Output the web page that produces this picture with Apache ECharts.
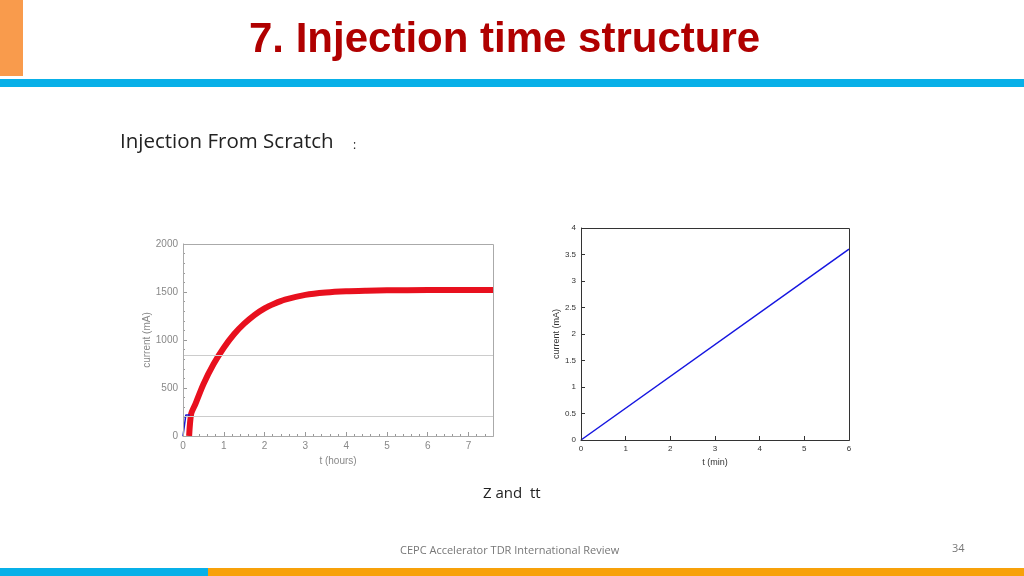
<!DOCTYPE html>
<html>
<head>
<meta charset="utf-8">
<script src="https://cdn.jsdelivr.net/npm/echarts@6/dist/echarts.min.js"></script>
<style>
html, body { margin: 0; padding: 0; background: #fff; }
#chart { width: 1024px; height: 576px; }
</style>
</head>
<body>
<div id="chart"></div>
<script>
// 左图: 电流随时间 (hours)
var redT = [0.15, 0.2, 0.3, 0.5, 0.75, 1, 1.25, 1.5, 1.75, 2, 2.25, 2.5, 3, 3.5, 4, 4.5, 5, 6, 7, 7.6];
var redI = [0, 230, 330, 540, 750, 920, 1060, 1170, 1260, 1330, 1380, 1420, 1470, 1495, 1508, 1514, 1518, 1520, 1521, 1522];
var blueT = [0, 0.07, 0.17];
var blueI = [0, 220, 220];
var refLines = [840, 210];
// 右图: 电流随时间 (min)
var rightT = [0, 6];
var rightI = [0, 3.6];

function pairs(xs, ys) {
	return xs.map(function(x, i) { return [x, ys[i]]; });
}

var axisGray = '#888';
var myChart = echarts.init(document.getElementById('chart'));
var option = {
	animation: false,
	textStyle: { fontFamily: 'Liberation Sans, Arial' },
	graphic: [
		{ type: 'rect', shape: { x: 0, y: 0, width: 23, height: 76 }, style: { fill: '#f99b4c' } },
		{ type: 'rect', shape: { x: 0, y: 79, width: 1024, height: 8 }, style: { fill: '#08b0e8' } },
		{ type: 'rect', shape: { x: 0, y: 568, width: 208, height: 8 }, style: { fill: '#08b0e8' } },
		{ type: 'rect', shape: { x: 208, y: 568, width: 816, height: 8 }, style: { fill: '#f7a10a' } },
		{ type: 'rect', shape: { x: 183.5, y: 244.5, width: 310, height: 192 }, style: { fill: 'none', stroke: '#aaa', lineWidth: 1 }, z: 10 },
		{ type: 'rect', shape: { x: 581.5, y: 228.5, width: 268, height: 212 }, style: { fill: 'none', stroke: '#333', lineWidth: 1 }, z: 10 },
		{ type: 'text', left: 249, top: 19, style: { text: '7. Injection time structure', font: 'bold 42px Liberation Sans, Arial', fill: '#b00000', shadowColor: 'rgba(0,0,0,0.35)', shadowOffsetX: 2, shadowOffsetY: 2, shadowBlur: 2 } },
		{ type: 'text', left: 120, top: 132, style: { text: 'Injection From Scratch', font: '20.5px Open Sans, Calibri, sans-serif', fill: '#222' } },
		{ type: 'text', left: 353, top: 140, style: { text: ':', font: '12px Open Sans, sans-serif', fill: '#222' } },
		{ type: 'text', left: 483, top: 486, style: { text: 'Z and  tt', font: '15px Open Sans, sans-serif', fill: '#222' } },
		{ type: 'text', left: 400, top: 545, style: { text: 'CEPC Accelerator TDR International Review', font: '11px Open Sans, sans-serif', fill: '#777' } },
		{ type: 'text', left: 952, top: 543, style: { text: '34', font: '11px Open Sans, sans-serif', fill: '#777' } }
	],
	grid: [
		{ left: 183, top: 244, width: 310, height: 192 },
		{ left: 581, top: 228, width: 268, height: 212 }
	],
	xAxis: [{
		gridIndex: 0, type: 'value', min: 0, max: 7.6, interval: 1,
		name: 't (hours)', nameLocation: 'middle', nameGap: 20,
		nameTextStyle: { color: axisGray, fontSize: 10 },
		axisLine: { lineStyle: { color: '#999' } },
		axisTick: { inside: true, length: 4, lineStyle: { color: '#999' } },
		minorTick: { show: true, splitNumber: 5, length: 2 },
		axisLabel: { color: axisGray, fontSize: 10, margin: 5, showMaxLabel: false },
		splitLine: { show: false }
	}, {
		gridIndex: 1, type: 'value', min: 0, max: 6, interval: 1,
		name: 't (min)', nameLocation: 'middle', nameGap: 18,
		nameTextStyle: { color: '#333', fontSize: 9 },
		axisLine: { lineStyle: { color: '#333' } },
		axisTick: { inside: true, length: 4, lineStyle: { color: '#333' } },
		axisLabel: { color: '#333', fontSize: 8, margin: 5 },
		splitLine: { show: false }
	}],
	yAxis: [{
		gridIndex: 0, type: 'value', min: 0, max: 2000, interval: 500,
		name: 'current (mA)', nameLocation: 'middle', nameGap: 30,
		nameTextStyle: { color: axisGray, fontSize: 10 },
		axisLine: { lineStyle: { color: '#999' } },
		axisTick: { inside: true, length: 4, lineStyle: { color: '#999' } },
		minorTick: { show: true, splitNumber: 5, length: 2 },
		axisLabel: { color: axisGray, fontSize: 10, margin: 5, formatter: function(v) { return String(v); } },
		splitLine: { show: false }
	}, {
		gridIndex: 1, type: 'value', min: 0, max: 4, interval: 0.5,
		name: 'current (mA)', nameLocation: 'middle', nameGap: 18,
		nameTextStyle: { color: '#333', fontSize: 9 },
		axisLine: { lineStyle: { color: '#333' } },
		axisTick: { inside: true, length: 4, lineStyle: { color: '#333' } },
		axisLabel: { color: '#333', fontSize: 8, margin: 5 },
		splitLine: { show: false }
	}],
	series: [{
		type: 'line', xAxisIndex: 0, yAxisIndex: 0, data: pairs(redT, redI),
		smooth: 0.25, symbol: 'none', lineStyle: { color: '#e8101e', width: 6 },
		markLine: {
			silent: true, symbol: 'none', label: { show: false },
			lineStyle: { color: '#ccc', width: 1, type: 'solid' },
			data: refLines.map(function(v) { return { yAxis: v }; })
		},
		z: 3
	}, {
		type: 'line', xAxisIndex: 0, yAxisIndex: 0, data: pairs(blueT, blueI),
		symbol: 'none', lineStyle: { color: '#1a1ad0', width: 1.5 }, z: 4
	}, {
		type: 'line', xAxisIndex: 1, yAxisIndex: 1, data: pairs(rightT, rightI),
		symbol: 'none', lineStyle: { color: '#1515e0', width: 1.5 }
	}]
};
myChart.setOption(option);
</script>
</body>
</html>
